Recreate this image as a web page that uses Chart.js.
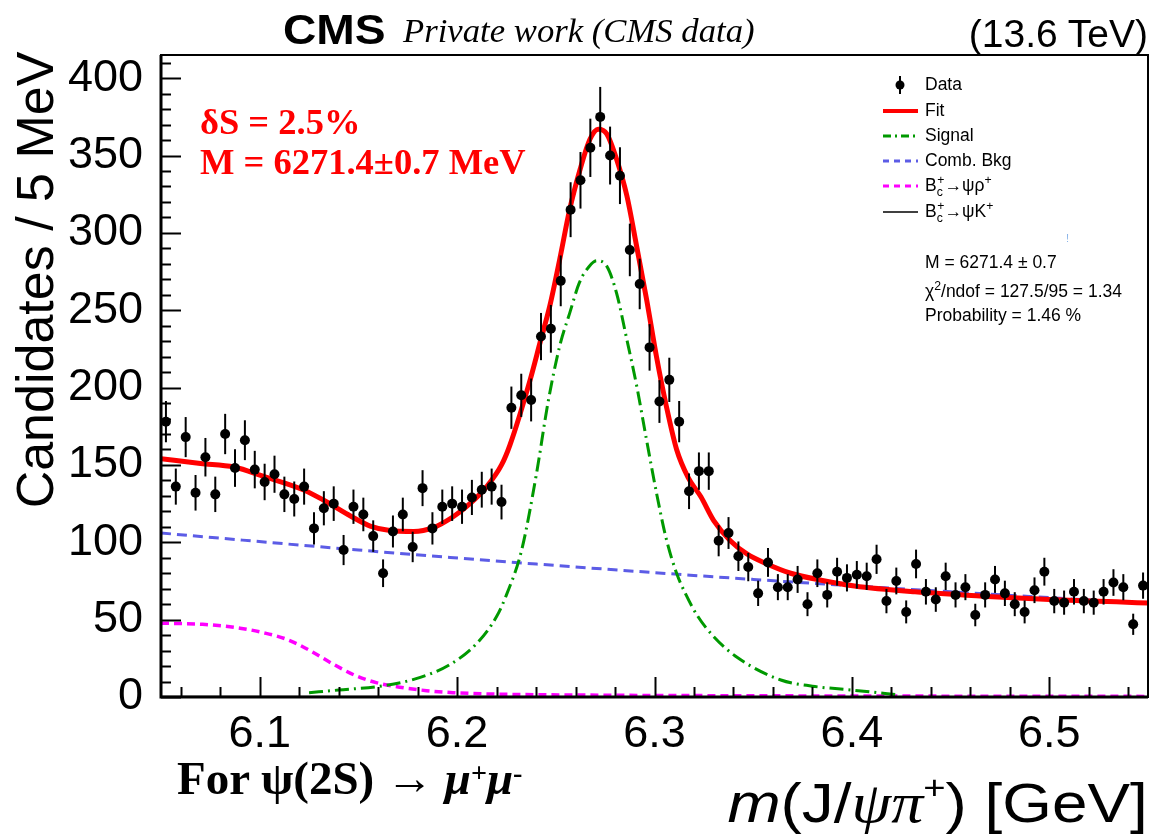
<!DOCTYPE html>
<html>
<head>
<meta charset="utf-8">
<script src="https://cdn.jsdelivr.net/npm/chart.js@4.4.1/dist/chart.umd.min.js"></script>
<style>
  html, body { margin: 0; padding: 0; background: #fff; }
  #wrap { position: relative; width: 1155px; height: 836px; overflow: hidden; }
  #plot { position: absolute; left: 0; top: 0; }
  .t { position: absolute; white-space: nowrap; line-height: 1; transform: translateY(-50%); color: #000; }
  .sans { font-family: "Liberation Sans", Arial, sans-serif; }
  .serif { font-family: "Liberation Serif", "Times New Roman", serif; }
  .leg { font-size: 17.5px; }
  .leg sub { font-size: 0.7em; vertical-align: -0.35em; }
  .leg sup { font-size: 0.7em; vertical-align: 0.6em; }
  .red { color: #ff0000; font-weight: bold; font-size: 36.5px; }
  #legsvg { position: absolute; left: 0; top: 0; }
</style>
</head>
<body>
<div id="wrap">
  <canvas id="plot" width="1155" height="836"></canvas>
  <svg id="legsvg" width="1155" height="836">
    <line x1="900" y1="76" x2="900" y2="94" stroke="#000" stroke-width="2"/>
    <circle cx="900" cy="85" r="4.5" fill="#000"/>
    <line x1="883" y1="111" x2="918" y2="111" stroke="#ff0000" stroke-width="4"/>
    <line x1="883" y1="136" x2="918" y2="136" stroke="#009900" stroke-width="3" stroke-dasharray="8 4 2 4"/>
    <line x1="883" y1="161" x2="918" y2="161" stroke="#5c5ce6" stroke-width="3" stroke-dasharray="6 5"/>
    <line x1="883" y1="186" x2="918" y2="186" stroke="#ff00ff" stroke-width="3" stroke-dasharray="6 5"/>
    <line x1="883" y1="212" x2="918" y2="212" stroke="#000" stroke-width="1.5"/>
  </svg>

  <div class="t sans" style="left:283px; top:30px; font-size:42px; font-weight:bold; transform:translateY(-50%) scaleX(1.1); transform-origin:0 50%;">CMS</div>
  <div class="t serif" style="left:403px; top:31px; font-size:34px; font-style:italic; transform:translateY(-50%) scaleX(1.02); transform-origin:0 50%;">Private work (CMS data)</div>
  <div class="t sans" style="right:7px; top:33px; font-size:39px;">(13.6 TeV)</div>

  <div class="t serif red" style="left:200px; top:122px;">&delta;S = 2.5%</div>
  <div class="t serif red" style="left:200px; top:162px;">M = 6271.4&plusmn;0.7 MeV</div>

  <div class="t sans leg" style="left:925px; top:85px;">Data</div>
  <div class="t sans leg" style="left:925px; top:111px;">Fit</div>
  <div class="t sans leg" style="left:925px; top:136px;">Signal</div>
  <div class="t sans leg" style="left:925px; top:161px;">Comb. Bkg</div>
  <div class="t sans leg" style="left:925px; top:186px;">B<sub>c</sub><sup style="margin-left:-0.45em">+</sup>&rarr;&psi;&rho;<sup>+</sup></div>
  <div class="t sans leg" style="left:925px; top:212px;">B<sub>c</sub><sup style="margin-left:-0.45em">+</sup>&rarr;&psi;K<sup>+</sup></div>
  <div class="t sans" style="left:1066px; top:238px; font-size:11px; color:#8ab4e8;">!</div>

  <div class="t sans leg" style="left:925px; top:263px;">M = 6271.4 &plusmn; 0.7</div>
  <div class="t sans leg" style="left:925px; top:290px;">&chi;<sup>2</sup>/ndof = 127.5/95 = 1.34</div>
  <div class="t sans leg" style="left:925px; top:316px;">Probability = 1.46 %</div>

  <div class="sans" style="position:absolute; left:35px; top:280px; transform:translate(-50%,-50%) rotate(-90deg); font-size:52px; white-space:nowrap; line-height:1;">Candidates / 5 MeV</div>
  <div class="t sans" style="right:7px; top:801px; font-size:56px; transform:translateY(-50%) scaleX(1.14); transform-origin:100% 50%;"><i>m</i>(J/<i class="serif">&psi;&pi;</i><sup style="font-size:0.6em; vertical-align:0.7em">+</sup>) [GeV]</div>
  <div class="t serif" style="left:177px; top:778px; font-size:47px; font-weight:bold;">For &psi;(2S) &rarr; <i>&mu;</i><sup style="font-size:0.6em; vertical-align:0.4em">+</sup><i>&mu;</i><sup style="font-size:0.6em; vertical-align:0.4em">-</sup></div>
</div>

<script>
// tick labels
const xTickLabels = [6.1, 6.2, 6.3, 6.4, 6.5];
const yTickLabels = [0, 50, 100, 150, 200, 250, 300, 350, 400];

// candidates per 5 MeV bin, 6.05 - 6.55 GeV (100 bins)
const counts = [
  178, 136, 168, 132, 155, 131, 170, 148, 166, 147,
  139, 144, 131, 128, 136, 109, 122, 125, 95, 123,
  118, 104, 80, 107, 118, 97, 135, 109, 123, 125,
  123, 129, 134, 136, 126, 187, 195, 192, 233, 238,
  269, 315, 334, 355, 375, 350, 337, 289, 267, 226,
  191, 205, 178, 133, 146, 146, 101, 106, 91, 84,
  67, 87, 71, 71, 76, 60, 80, 66, 81, 77,
  79, 78, 89, 62, 75, 55, 86, 68, 63, 78,
  66, 71, 53, 66, 76, 67, 60, 55, 69, 81,
  62, 61, 68, 62, 61, 68, 74, 71, 47, 72
];
const binCenters = counts.map((_, i) => +(6.0525 + 0.005 * i).toFixed(4));

// curves
const fitX = [6.05, 6.07, 6.087, 6.102, 6.122, 6.132, 6.146, 6.156, 6.166, 6.178, 6.188, 6.198, 6.2065, 6.215, 6.2225, 6.2268,
  6.237, 6.242, 6.247, 6.252, 6.257, 6.2623, 6.2673, 6.2715, 6.2758, 6.2808, 6.286, 6.291, 6.296, 6.301, 6.306, 6.3112,
  6.317, 6.3235, 6.33, 6.3384, 6.3468, 6.357, 6.369, 6.3844, 6.4013, 6.432, 6.466, 6.5, 6.534, 6.55];
const fitY = [154, 151, 148.7, 142.6, 134, 127.5, 117, 110.5, 107.6, 107, 109.5, 116.5, 125, 136, 150, 163,
  205, 229, 253, 283, 315, 341, 360.5, 367, 364, 347.6, 324, 291, 257, 220, 188, 160,
  142, 129.4, 114, 101, 92.5, 86, 80, 75.5, 71.8, 68, 65.2, 63, 61.5, 60.7];

const sigX = [6.125, 6.14, 6.16, 6.178, 6.196, 6.21, 6.22, 6.225, 6.2327, 6.2403, 6.246, 6.252, 6.257, 6.262, 6.267, 6.2707,
  6.2758, 6.2808, 6.286, 6.291, 6.296, 6.301, 6.306, 6.3112, 6.316, 6.322, 6.33, 6.342, 6.364, 6.38, 6.40, 6.424];
const sigY = [2.8, 4.5, 6.8, 11.4, 20.7, 34.7, 52, 66, 95, 145, 190, 227, 248, 268, 278.5, 282,
  278.5, 261, 231, 201, 166, 132, 102, 80, 66, 52, 39, 25.5, 11, 7, 4.5, 1.3];

const bkgX = [6.05, 6.15, 6.25, 6.35, 6.45, 6.55];
const bkgY = [106, 95, 85, 76, 68, 60.5];

const rhoX = [6.05, 6.071, 6.09, 6.1017, 6.1137, 6.1255, 6.137, 6.149, 6.159, 6.171, 6.1846, 6.198, 6.218, 6.259, 6.35, 6.55];
const rhoY = [47.7, 47, 44.5, 41.6, 37.3, 30, 21.4, 13.6, 9.3, 6.3, 4.1, 2.8, 1.9, 1.3, 0.8, 0.4];

const kX = [6.05, 6.30, 6.55];
const kY = [0.3, 0.2, 0.1];

const pts = (xs, ys) => xs.map((x, i) => ({ x: x, y: ys[i] }));
const errs = counts.map(v => Math.sqrt(v));

// ROOT-style frame with inner ticks + error bars
const rootFrame = {
  id: 'rootFrame',
  beforeDatasetDraw(chart, args) {
    if (args.index !== 0) return;
    const c = chart.ctx, xs = chart.scales.x, ys = chart.scales.y;
    c.save();
    c.strokeStyle = '#000';
    c.lineWidth = 2;
    counts.forEach((v, i) => {
      const px = xs.getPixelForValue(binCenters[i]);
      c.beginPath();
      c.moveTo(px, ys.getPixelForValue(v - errs[i]));
      c.lineTo(px, ys.getPixelForValue(v + errs[i]));
      c.stroke();
    });
    c.restore();
  },
  afterDraw(chart) {
    const c = chart.ctx, a = chart.chartArea, xs = chart.scales.x, ys = chart.scales.y;
    c.save();
    c.strokeStyle = '#000';
    c.lineWidth = 2;
    for (let v = 0; v <= 410; v += 10) {
      const py = Math.round(ys.getPixelForValue(v)) + 0.5;
      const len = v % 50 === 0 ? 20 : 10;
      c.beginPath(); c.moveTo(a.left, py); c.lineTo(a.left + len, py); c.stroke();
    }
    for (let k = 0; k <= 25; k++) {
      const v = 6.06 + 0.02 * k;
      if (v > 6.55) break;
      const px = Math.round(xs.getPixelForValue(v)) + 0.5;
      const len = (k - 2) % 5 === 0 ? 20 : 10;
      c.beginPath(); c.moveTo(px, a.bottom); c.lineTo(px, a.bottom - len); c.stroke();
    }
    c.lineWidth = 2;
    c.strokeRect(a.left, a.top, a.right - a.left, a.bottom - a.top);
    c.lineWidth = 3;
    c.beginPath(); c.moveTo(a.left, a.top); c.lineTo(a.left, a.bottom); c.lineTo(a.right, a.bottom); c.stroke();
    c.restore();
  }
};

const curve = (data, color, width, dash, order) => ({
  data: data, showLine: true, pointRadius: 0, borderColor: color, borderWidth: width,
  borderDash: dash, cubicInterpolationMode: 'monotone', fill: false, order: order
});

const ctx = document.getElementById('plot').getContext('2d');
const tickFont = { family: '"Liberation Sans", Arial, sans-serif', size: 45 };

new Chart(ctx, {
  type: 'scatter',
  data: {
    datasets: [
      { data: pts(binCenters, counts), pointRadius: 5, pointBackgroundColor: '#000', pointBorderWidth: 0, order: 0 },
      curve(pts(fitX, fitY), '#ff0000', 5, [], 1),
      curve(pts(sigX, sigY), '#009900', 3, [14, 5, 2, 5], 2),
      curve(pts(bkgX, bkgY), '#5c5ce6', 3, [10, 6], 3),
      curve(pts(rhoX, rhoY), '#ff00ff', 3.5, [8, 5], 4),
      curve(pts(kX, kY), '#000000', 1.5, [], 5)
    ]
  },
  options: {
    responsive: false,
    animation: false,
    layout: { padding: { top: 55, right: 7, left: 0, bottom: 0 } },
    plugins: { legend: { display: false }, tooltip: { enabled: false } },
    scales: {
      x: {
        type: 'linear', min: 6.05, max: 6.55,
        grid: { display: false, drawTicks: false }, border: { display: false },
        afterBuildTicks: s => { s.ticks = xTickLabels.map(v => ({ value: v })); },
        afterFit: s => { s.height = 139; },
        ticks: { font: tickFont, color: '#000', padding: 11, maxRotation: 0, callback: v => v.toFixed(1) }
      },
      y: {
        min: 0, max: 415,
        grid: { display: false, drawTicks: false }, border: { display: false },
        afterBuildTicks: s => { s.ticks = yTickLabels.map(v => ({ value: v })); },
        afterFit: s => { s.width = 161; },
        ticks: { font: tickFont, color: '#000', padding: 18, callback: v => String(v) }
      }
    }
  },
  plugins: [rootFrame]
});
</script>
</body>
</html>
